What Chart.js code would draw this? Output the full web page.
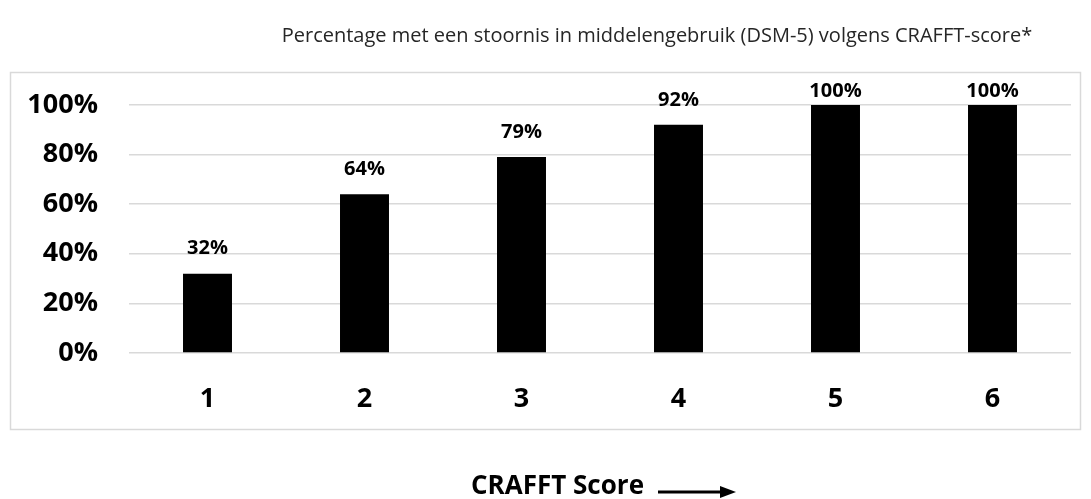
<!DOCTYPE html>
<html>
<head>
<meta charset="utf-8">
<script src="https://cdn.jsdelivr.net/npm/chart.js@4"></script>
<style>
html,body{margin:0;padding:0;background:#fff;}
canvas{display:block;}
</style>
</head>
<body>
<canvas id="c" width="1091" height="499"></canvas>
<script>
const categories = ['1', '2', '3', '4', '5', '6'];
const values = [32, 64, 79, 92, 100, 100];
const titleText = 'Percentage met een stoornis in middelengebruik (DSM-5) volgens CRAFFT-score*';
const xTitleText = 'CRAFFT Score';

const FONT = '"Open Sans", "DejaVu Sans", sans-serif';

const decor = {
  id: 'decor',
  beforeDraw(chart) {
    const ctx = chart.ctx;
    ctx.save();
    ctx.fillStyle = '#fff';
    ctx.fillRect(0, 0, chart.width, chart.height);
    ctx.strokeStyle = '#d9d9d9';
    ctx.lineWidth = 1.5;
    ctx.strokeRect(10.5, 72.5, 1070, 357);
    ctx.restore();
  },
  afterDraw(chart) {
    const ctx = chart.ctx;
    ctx.save();
    // title
    ctx.fillStyle = '#262626';
    ctx.font = '20px ' + FONT;
    ctx.textAlign = 'center';
    ctx.textBaseline = 'middle';
    ctx.fillText(titleText, 657, 36);
    // x title
    ctx.fillStyle = '#000';
    ctx.font = 'bold 26px ' + FONT;
    ctx.textAlign = 'right';
    ctx.fillText(xTitleText, 644, 487);
    // arrow
    ctx.strokeStyle = '#000';
    ctx.lineWidth = 3;
    ctx.beginPath();
    ctx.moveTo(658, 492);
    ctx.lineTo(722, 492);
    ctx.stroke();
    ctx.beginPath();
    ctx.moveTo(736, 492);
    ctx.lineTo(720, 486);
    ctx.lineTo(720, 498);
    ctx.closePath();
    ctx.fill();
    // data labels
    const meta = chart.getDatasetMeta(0);
    ctx.font = 'bold 20px ' + FONT;
    ctx.textAlign = 'center';
    ctx.textBaseline = 'middle';
    meta.data.forEach((bar, i) => {
      const y = Math.max(bar.y - 25, 91);
      ctx.fillText(values[i] + '%', bar.x, y);
    });
    ctx.restore();
  }
};

new Chart(document.getElementById('c'), {
  type: 'bar',
  data: {
    labels: categories,
    datasets: [{
      data: values,
      backgroundColor: '#000',
      borderWidth: 0,
      categoryPercentage: 1,
      barPercentage: 0.312
    }]
  },
  options: {
    responsive: false,
    animation: false,
    devicePixelRatio: 1,
    layout: { padding: { left: 0, right: 20, top: 105, bottom: 76 } },
    plugins: { legend: { display: false }, title: { display: false }, tooltip: { enabled: false } },
    scales: {
      x: {
        grid: { display: false },
        border: { display: false },
        ticks: { color: '#000', font: { family: FONT, size: 27, weight: 'bold' }, padding: 22 },
        afterFit(scale) { scale.height = 70; }
      },
      y: {
        min: 0, max: 100,
        ticks: { stepSize: 20, color: '#000', font: { family: FONT, size: 27, weight: 'bold' }, padding: 31,
          callback: v => v + '%' },
        grid: { color: '#d9d9d9', lineWidth: 1.5, drawTicks: false },
        border: { display: false },
        afterFit(scale) { scale.width = 129; }
      }
    }
  },
  plugins: [decor]
});
</script>
</body>
</html>
